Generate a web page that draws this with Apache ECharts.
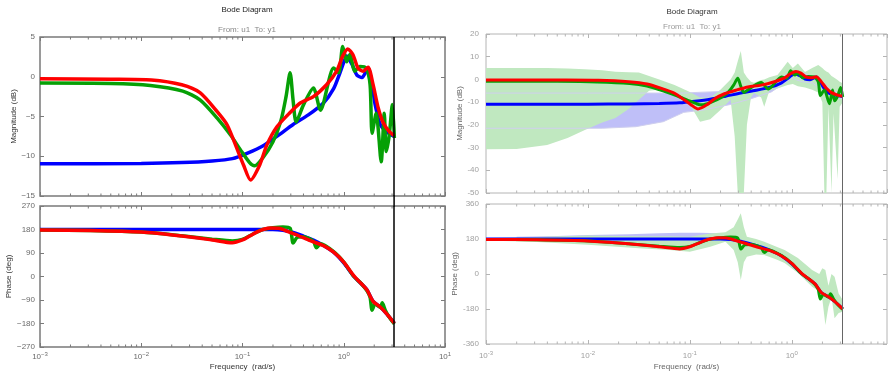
<!DOCTYPE html>
<html><head><meta charset="utf-8">
<script src="https://cdn.jsdelivr.net/npm/echarts@6/dist/echarts.min.js"></script>
<style>html,body{margin:0;padding:0;background:#fff}#c{width:890px;height:376px}</style>
</head><body><div id="c"></div>
<script>
// ---------- data (log10 of frequency in rad/s, and values) ----------
const magBlueLw = [-3, -2, -1.6, -1.3, -1.1, -0.95, -0.8, -0.65, -0.5, -0.35, -0.2, -0.1, -0.04, 0.0, 0.03, 0.08, 0.13, 0.18, 0.24, 0.28, 0.31, 0.36, 0.42, 0.5];
const magBlue   = [-10.95, -10.9, -10.8, -10.6, -10.3, -9.6, -8.7, -7.4, -6.0, -4.8, -3.3, -1.5, 0.4, 1.8, 2.6, 1.6, 0.2, -0.1, 1.1, -1.0, -3.5, -6.0, -6.9, -7.5];

const magRedLw = [-3, -2.3, -1.9, -1.6, -1.42, -1.25, -1.15, -1.05, -0.99, -0.92, -0.83, -0.76, -0.66, -0.53, -0.43, -0.3, -0.17, -0.07, -0.01, 0.04, 0.09, 0.14, 0.19, 0.24, 0.29, 0.34, 0.39, 0.45, 0.5];
const magRed   = [-0.25, -0.3, -0.4, -1.0, -2.0, -4.4, -6.1, -9.2, -11.1, -13.0, -11.1, -8.6, -6.3, -4.5, -3.3, -2.5, -1.0, 0.7, 2.6, 3.5, 2.8, 1.1, 0.7, 1.2, -1.0, -3.9, -5.8, -6.9, -7.4];

const magGreenLw = [-3, -2.3, -1.91, -1.59, -1.42, -1.25, -1.12, -1.02, -0.93, -0.88, -0.8, -0.7, -0.62, -0.57, -0.53, -0.5, -0.47, -0.4, -0.3, -0.23, -0.1, -0.05, -0.01, 0.03, 0.06, 0.11, 0.16, 0.22, 0.26, 0.28, 0.32, 0.37, 0.4, 0.42, 0.45, 0.48, 0.5];
const magGreen   = [-0.8, -0.85, -1.1, -1.8, -2.9, -5.2, -7.3, -9.2, -10.8, -11.2, -10.2, -8.2, -5.5, -2.5, 0.5, -3.0, -5.7, -3.6, -1.4, -4.2, 1.1, 0.5, 3.8, 1.9, 2.8, 0.7, 1.3, 1.1, -1.0, -7.1, -4.6, -10.7, -4.6, -9.4, -7.3, -3.5, -7.7];

const phBlueLw = [-3, -0.7, -0.6, -0.5, -0.4, -0.3, -0.2, -0.1, 0, 0.1, 0.17, 0.23, 0.29, 0.36, 0.42, 0.5];
const phBlue   = [180, 180, 177, 169, 155, 139, 119, 93, 52, 0, -27, -52, -95, -117, -141, -179];

const phRedLw = [-3, -2.5, -2, -1.6, -1.3, -1.1, -1.0, -0.93, -0.86, -0.79, -0.72, -0.64, -0.55, -0.45, -0.33, -0.2, -0.1, 0, 0.1, 0.17, 0.23, 0.29, 0.36, 0.42, 0.5];
const phRed   = [178, 176, 170, 155, 140, 129, 140, 155, 170, 181, 186, 185, 172, 157, 137, 118, 93, 55, 2, -26, -52, -95, -117, -141, -179];

const phGreenLw = [-3, -2.5, -2, -1.6, -1.3, -1.1, -1.0, -0.9, -0.8, -0.7, -0.6, -0.53, -0.5, -0.46, -0.4, -0.3, -0.27, -0.23, -0.1, 0, 0.1, 0.17, 0.23, 0.26, 0.28, 0.31, 0.36, 0.38, 0.41, 0.44, 0.5];
const phGreen   = [178, 176, 170, 156, 143, 136, 142, 162, 180, 187, 190, 185, 128, 150, 152, 135, 110, 125, 95, 55, 0, -26, -55, -80, -129, -105, -118, -101, -129, -150, -182];

// confidence regions (right panel)
const magGreenBandLw = [-3, -2.7, -2.4, -2.2, -2.03, -1.86, -1.73, -1.6, -1.5, -1.4, -1.3, -1.15, -1.0, -0.9, -0.8, -0.7, -0.6, -0.56, -0.53, -0.5, -0.47, -0.44, -0.4, -0.37, -0.3, -0.27, -0.22, -0.14, -0.04, 0.01, 0.06, 0.13, 0.2, 0.26, 0.3, 0.32, 0.34, 0.36, 0.39, 0.41, 0.45, 0.47, 0.5];
const magGreenBandHi = [5, 5, 5, 4.8, 4.5, 4, 3.4, 3.2, 3, 1.5, 0, -2.5, -5.5, -8, -8, -4.5, 0, 3, 8, 12.5, 3, 1, -1, -1.5, -0.3, 0, 1, 1.9, 7.8, 5, 7, 3.3, 5, 6.4, 5, 4.2, 3.5, 3, 1.5, 1, -0.3, -1, -1.7];
const magGreenBandLo = [-30.7, -30.6, -28.9, -25.8, -22.3, -19, -17, -13, -9, -5, -4.5, -7.5, -11, -18.6, -17.5, -13.5, -9, -25, -60, -60, -60, -20, -8, -6, -8, -12, -5, -4, -2.5, -2, -3, -3.5, -4.5, -5.7, -10, -60, -60, -12, -60, -15, -44, -12, -10];

const magBlueBandLw = [-3, -2, -1.86, -1.53, -1.26, -1.06, -0.87, -0.6, -0.4, -0.2, 0, 0.1, 0.2, 0.3, 0.4, 0.5];
const magBlueBandHi = [-6, -6, -6, -6, -6, -6, -5.6, -5.2, -4, -2, 3.5, 3, 1.5, -1, -5, -6.5];
const magBlueBandLo = [-21.5, -21.5, -21.5, -20.8, -18.6, -14.5, -13.5, -11, -8.5, -5.5, 0.5, -1, -1.5, -4.5, -7.5, -8.5];

const phGreenBandLw = [-3, -2.5, -2, -1.5, -1.2, -1.0, -0.8, -0.65, -0.57, -0.53, -0.5, -0.47, -0.44, -0.35, -0.27, -0.15, -0.07, 0.06, 0.2, 0.27, 0.3, 0.33, 0.36, 0.39, 0.42, 0.46, 0.5];
const phGreenBandHi = [185, 190, 198, 194, 194, 192, 208, 215, 240, 280, 313, 240, 192, 180, 166, 140, 123, 82, 20, 0, 30, 20, -60, 0, -14, -100, -134];
const phGreenBandLo = [172, 165, 150, 132, 124, 115, 140, 166, 123, 60, -31, 60, 89, 100, 98, 75, 57, 5, -65, -90, -130, -262, -168, -120, -227, -200, -194];

const phBlueBandLw = [-2.7, -2.3, -2, -1.6, -1.3, -1.1, -0.9, -0.7, -0.55, -0.4, -0.2, 0, 0.2, 0.4, 0.5];
const phBlueBandHi = [192, 196, 200, 205, 210, 212, 212, 210, 195, 168, 128, 62, -30, -128, -172];
const phBlueBandLo = [176, 172, 168, 164, 160, 158, 160, 165, 165, 145, 112, 48, -40, -138, -186];

const nyquistFreq = Math.PI;
const leftFreqMax = 10;      // left figure x-limit
const rightFreqMax = 8.6;    // right figure x-limit (box ends just short of 10^1)
const minorTickFreqs = [0.002,0.003,0.004,0.005,0.006,0.007,0.008,0.009,
  0.02,0.03,0.04,0.05,0.06,0.07,0.08,0.09,
  0.2,0.3,0.4,0.5,0.6,0.7,0.8,0.9,
  2,3,4,5,6,7,8,9];

// ---------- chart ----------
const FONT = '"Liberation Sans", Arial, sans-serif';
function pts(lw, v) { return lw.map((l, i) => [Math.pow(10, l), v[i]]); }

const panels = [
  { grid: {left: 40, top: 37, width: 405, height: 159}, xmax: leftFreqMax, ymin: -15, ymax: 5, interval: 5, yname: 'Magnitude (dB)', nameGap: 21, bottomLabels: false, left: true },
  { grid: {left: 40, top: 206, width: 405, height: 141}, xmax: leftFreqMax, ymin: -270, ymax: 270, interval: 90, yname: 'Phase (deg)', nameGap: 24, bottomLabels: true, left: true },
  { grid: {left: 486, top: 34, width: 401, height: 159}, xmax: rightFreqMax, ymin: -50, ymax: 20, interval: 10, yname: 'Magnitude (dB)', nameGap: 17, bottomLabels: false, left: false },
  { grid: {left: 486, top: 204, width: 401, height: 140}, xmax: rightFreqMax, ymin: -360, ymax: 360, interval: 180, yname: 'Phase (deg)', nameGap: 21, bottomLabels: true, left: false }
];

const grids = [], xAxes = [], yAxes = [], series = [];
panels.forEach((p, gi) => {
  const L = p.left;
  const frame = L ? '#7a7a7a' : '#b4b4b4';
  const lab = L ? '#6a6a6a' : '#a0a0a0';
  const nm = L ? '#333' : '#666';
  const minus = L ? '\u2212' : '-';
  grids.push(Object.assign({show: true, borderColor: frame, borderWidth: L ? 1.5 : 1, backgroundColor: '#fff',
    outerBoundsMode: 'none', containLabel: false}, p.grid));
  const tick = {show: true, inside: true, length: 4, lineStyle: {color: frame, width: 1}};
  const xBase = {type: 'log', logBase: 10, min: 0.001, max: p.xmax, gridIndex: gi, splitLine: {show: false},
    axisLine: {show: false, onZero: false}, axisTick: tick};
  xAxes.push(Object.assign({}, xBase, {
    position: 'bottom',
    axisLabel: {show: p.bottomLabels, margin: L ? 4 : 6, color: lab, fontFamily: FONT, hideOverlap: false,
      showMinLabel: true, showMaxLabel: L,
      formatter: v => {
        const lg = Math.log10(v), e = Math.round(lg);
        if (Math.abs(lg - e) > 0.01) return '';
        return '{b|10}{s|' + (e < 0 ? minus + (-e) : e) + '}';
      },
      rich: {b: {fontSize: 8, color: lab, fontFamily: FONT}, s: {fontSize: 6, color: lab, fontFamily: FONT, padding: [0, 0, 6, 0]}}},
    name: p.bottomLabels ? 'Frequency  (rad/s)' : '', nameLocation: 'middle', nameGap: L ? 16 : 19,
    nameTextStyle: {fontSize: 8, color: nm, fontFamily: FONT}
  }));
  xAxes.push(Object.assign({}, xBase, {position: 'top', axisLabel: {show: false}}));
  const yBase = {type: 'value', min: p.ymin, max: p.ymax, interval: p.interval, gridIndex: gi,
    splitLine: {show: false}, axisLine: {show: false, onZero: false}, axisTick: tick};
  yAxes.push(Object.assign({}, yBase, {
    position: 'left',
    axisLabel: {margin: L ? 5 : 7, fontSize: 8, color: lab, fontFamily: FONT,
      formatter: v => (v < 0 ? minus + Math.abs(v) : String(v))},
    name: p.yname, nameLocation: 'middle', nameRotate: 90, nameGap: p.nameGap,
    nameTextStyle: {fontSize: 8, color: nm, fontFamily: FONT}
  }));
  yAxes.push(Object.assign({}, yBase, {position: 'right', axisLabel: {show: false}}));

  // minor log ticks on bottom and top edges
  series.push({
    type: 'custom', xAxisIndex: 2 * gi, yAxisIndex: 2 * gi, silent: true, z: 5,
    data: minorTickFreqs.filter(f => f < p.xmax).map(f => [f, p.ymin]),
    renderItem: (params, api) => {
      const f = api.value(0);
      const b = api.coord([f, p.ymin]);
      const t = api.coord([f, p.ymax]);
      const st = {stroke: frame, lineWidth: 1};
      return {type: 'group', children: [
        {type: 'line', shape: {x1: b[0], y1: b[1], x2: b[0], y2: b[1] - 2.5}, style: st},
        {type: 'line', shape: {x1: t[0], y1: t[1], x2: t[0], y2: t[1] + 2.5}, style: st}
      ]};
    }
  });
});

function band(gi, lw, lo, hi, fill, edge) {
  const p = panels[gi];
  const data = lw.map((l, i) => [Math.pow(10, l), lo[i], hi[i]]);
  const c = v => Math.min(p.ymax, Math.max(p.ymin, v));
  return {
    type: 'custom', xAxisIndex: 2 * gi, yAxisIndex: 2 * gi, silent: true, z: 2,
    data: data, encode: {x: 0, y: [1, 2]},
    renderItem: (params, api) => {
      if (params.dataIndex !== 0) return null;
      const top = data.map(d => api.coord([d[0], c(d[2])]));
      const bot = data.map(d => api.coord([d[0], c(d[1])]));
      if (fill) {
        return {type: 'polygon', shape: {points: top.concat(bot.slice().reverse())}, style: {fill: fill}};
      }
      return {type: 'group', children: [
        {type: 'polyline', shape: {points: top}, style: {stroke: edge, lineWidth: 1, fill: null}},
        {type: 'polyline', shape: {points: bot}, style: {stroke: edge, lineWidth: 1, fill: null}}
      ]};
    }
  };
}

function curve(gi, lw, v, color, width, withLine) {
  const s = {
    type: 'line', xAxisIndex: 2 * gi, yAxisIndex: 2 * gi, data: pts(lw, v),
    symbol: 'none', smooth: 0.25, z: 3, silent: true,
    lineStyle: {color: color, width: width}
  };
  if (withLine) {
    const L = panels[gi].left;
    s.markLine = {silent: true, symbol: 'none', label: {show: false},
      lineStyle: {color: L ? '#000' : '#666', width: L ? 1.5 : 1, type: 'solid'},
      data: [{xAxis: nyquistFreq}]};
  }
  return s;
}

// the Nyquist line continues through the gap between the two plots of a figure
function nyquistGap(gi) {
  const p = panels[gi], above = panels[gi - 1];
  const gap = p.grid.top - (above.grid.top + above.grid.height);
  const L = p.left;
  return {
    type: 'custom', xAxisIndex: 2 * gi, yAxisIndex: 2 * gi, silent: true, z: 6, clip: false,
    data: [[nyquistFreq, p.ymax]],
    renderItem: (params, api) => {
      const t = api.coord([api.value(0), api.value(1)]);
      return {type: 'line', shape: {x1: t[0], y1: t[1] + 0.5, x2: t[0], y2: t[1] - gap - 0.5},
        style: {stroke: L ? '#000' : '#666', lineWidth: L ? 1.5 : 1}};
    }
  };
}

const BLUE = '#0000ff', GREEN = '#06a006', RED = '#ff0000';
// right panel bands
series.push(band(2, magBlueBandLw, magBlueBandLo, magBlueBandHi, '#bfbff8'));
series.push(band(2, magGreenBandLw, magGreenBandLo, magGreenBandHi, '#c0e8c0'));
series.push(band(2, magBlueBandLw, magBlueBandLo, magBlueBandHi, null, '#cfcfee'));
series.push(band(3, phBlueBandLw, phBlueBandLo, phBlueBandHi, '#bfbff8'));
series.push(band(3, phGreenBandLw, phGreenBandLo, phGreenBandHi, '#c0e8c0'));

[0, 2].forEach(gi => {
  const w = gi === 0 ? 3.5 : 3;
  series.push(curve(gi, magBlueLw, magBlue, BLUE, w, true));
  series.push(curve(gi, magGreenLw, magGreen, GREEN, w, false));
  series.push(curve(gi, magRedLw, magRed, RED, w, false));
});
[1, 3].forEach(gi => {
  const w = gi === 1 ? 3.5 : 3;
  series.push(curve(gi, phBlueLw, phBlue, BLUE, w, true));
  series.push(curve(gi, phGreenLw, phGreen, GREEN, w, false));
  series.push(curve(gi, phRedLw, phRed, RED, w, false));
  series.push(nyquistGap(gi));
});

const chart = echarts.init(document.getElementById('c'), null, {renderer: 'canvas'});
chart.setOption({
  animation: false,
  backgroundColor: '#fff',
  title: [
    {text: 'Bode Diagram', left: 242, top: 1, textAlign: 'center', textStyle: {fontSize: 8, fontWeight: 'normal', color: '#222', fontFamily: FONT}},
    {text: 'From: u1  To: y1', left: 242, top: 21, textAlign: 'center', textStyle: {fontSize: 8, fontWeight: 'normal', color: '#888', fontFamily: FONT}},
    {text: 'Bode Diagram', left: 687, top: 3, textAlign: 'center', textStyle: {fontSize: 8, fontWeight: 'normal', color: '#333', fontFamily: FONT}},
    {text: 'From: u1  To: y1', left: 687, top: 18, textAlign: 'center', textStyle: {fontSize: 8, fontWeight: 'normal', color: '#999', fontFamily: FONT}}
  ],
  grid: grids, xAxis: xAxes, yAxis: yAxes, series: series
});
</script></body></html>
